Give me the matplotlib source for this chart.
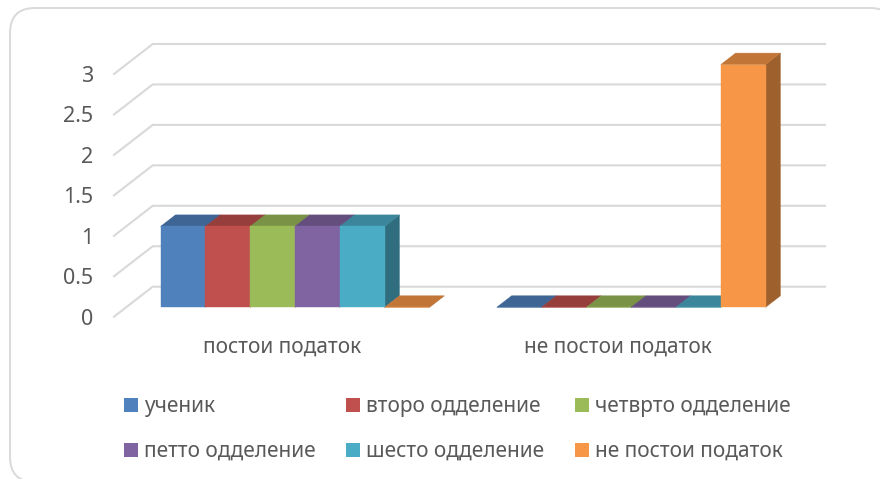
import matplotlib
matplotlib.use("Agg")
import matplotlib.pyplot as plt
from matplotlib.patches import Polygon, FancyBboxPatch, Patch
from matplotlib.transforms import IdentityTransform
from matplotlib.colors import to_rgb

categories = ["постои податок", "не постои податок"]
series_names = ["ученик", "второ одделение", "четврто одделение",
                "петто одделение", "шесто одделение", "не постои податок"]
ucenik = [1, 0]
vtoro = [1, 0]
cetvrto = [1, 0]
petto = [1, 0]
sesto = [1, 0]
ne_postoi = [0, 3]
series_values = [ucenik, vtoro, cetvrto, petto, sesto, ne_postoi]
colors = ["#4F81BD", "#C0504D", "#9BBB59", "#8064A2", "#4BACC6", "#F79646"]
y_ticks = [0, 0.5, 1, 1.5, 2, 2.5, 3]
y_labels = ["0", "0.5", "1", "1.5", "2", "2.5", "3"]

W, H = 880, 479
plt.rcParams["font.family"] = ["Noto Sans", "DejaVu Sans"]
TEXT = "#595959"
GRID = "#D9D9D9"
FS = 15

fig = plt.figure(figsize=(W / 100, H / 100), dpi=100)
rad = 25
bx0, bx1, by0, by1 = 10, 895, 479 - 482, 479 - 8
fig.add_artist(FancyBboxPatch((bx0 + rad, by0 + rad), bx1 - bx0 - 2 * rad, by1 - by0 - 2 * rad,
                              boxstyle=f"round,pad={rad},rounding_size={rad}",
                              fc="white", ec=GRID, lw=1.4, zorder=-5,
                              transform=IdentityTransform()))

L, R, B, T = 114, 786.3, 316.7, 74.0
ax = fig.add_axes([L / W, 1 - B / H, (R - L) / W, (B - T) / H], zorder=5)
ax.patch.set_alpha(0)
ax.set_xlim(-0.5, 1.5)
ax.set_ylim(0, 3)
for s in ax.spines.values():
    s.set_visible(False)

px_x = (R - L) / 2
px_y = (B - T) / 3
DX = 38.7 / px_x   # shift of the full floor depth
DY = 30.0 / px_y


def proj(x, y, d):
    return (x + d * DX, y + d * DY)


# walls and gridlines
for t in y_ticks:
    p0 = proj(-0.5, t, 0)
    p1 = proj(-0.5, t, 1)
    p2 = proj(1.5, t, 1)
    ax.plot([p0[0], p1[0], p2[0]], [p0[1], p1[1], p2[1]], color=GRID, lw=1.5,
            clip_on=False, zorder=1, solid_joinstyle="miter")

# bars
bar_w = 44.8 / px_x
nudge = 0.8 / px_x
d0, d1 = 9.4 / 30, (9.4 + 11.5) / 30
z = 2


def shade(c, f):
    return tuple(v * f for v in to_rgb(c))


for cat in range(len(categories)):
    for i, (vals, c) in enumerate(zip(series_values, colors)):
        v = vals[cat]
        x0 = cat + (i - 3) * bar_w + nudge
        x1 = x0 + bar_w
        top = [proj(x0, v, d0), proj(x1, v, d0), proj(x1, v, d1), proj(x0, v, d1)]
        side = [proj(x1, 0, d0), proj(x1, v, d0), proj(x1, v, d1), proj(x1, 0, d1)]
        front = [proj(x0, 0, d0), proj(x1, 0, d0), proj(x1, v, d0), proj(x0, v, d0)]
        for pts, col in ((side, shade(c, 0.64)), (top, shade(c, 0.78)), (front, c)):
            ax.add_patch(Polygon(pts, closed=True, fc=col, ec=col, lw=0.3,
                                 clip_on=False, zorder=z))
        z += 1

ax.set_yticks(y_ticks, y_labels)
ax.set_xticks(range(len(categories)), categories)
ax.tick_params(axis="y", length=0, pad=15, labelsize=FS + 0.5, labelcolor=TEXT)
ax.tick_params(axis="x", length=0, pad=14, labelsize=FS, labelcolor=TEXT)

order = [0, 3, 1, 4, 2, 5]
handles = [Patch(fc=colors[i], ec=colors[i], lw=0) for i in order]
labels = [series_names[i] for i in order]
leg = ax.legend(handles, labels, ncol=3, frameon=False, fontsize=FS,
                loc="upper left", bbox_to_anchor=(124 / W, 1 - 396 / H),
                bbox_transform=fig.transFigure, borderaxespad=0, borderpad=0,
                handlelength=0.67, handleheight=0.67, handletextpad=0.3,
                columnspacing=1.45, labelspacing=1.15)
for t in leg.get_texts():
    t.set_color(TEXT)

fig.savefig("out.png", dpi=100)
